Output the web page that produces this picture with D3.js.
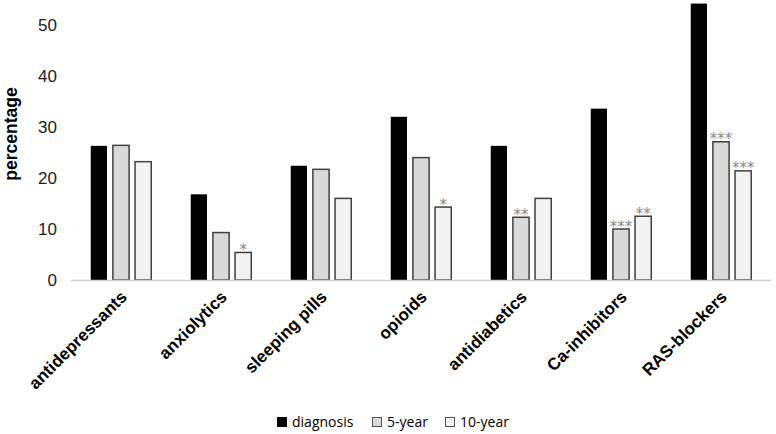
<!DOCTYPE html>
<html><head><meta charset="utf-8">
<script src="https://cdn.jsdelivr.net/npm/d3@7"></script>
<style>body{margin:0;background:#fff}</style>
</head><body><svg id="c" width="776" height="434"></svg>
<script>
const categories = ["antidepressants","anxiolytics","sleeping pills","opioids","antidiabetics","Ca-inhibitors","RAS-blockers"];
const seriesNames = ["diagnosis","5-year","10-year"];
const diagnosis = [26.3, 16.8, 22.4, 32.0, 26.3, 33.6, 54.2];
const year5 = [26.4, 9.3, 21.7, 24.0, 12.3, 10.0, 27.1];
const year10 = [23.2, 5.4, 16.0, 14.3, 16.0, 12.5, 21.4];
const marks5 = ["", "", "", "", "**", "***", "***"];
const marks10 = ["", "*", "", "*", "", "**", "***"];
const yTicks = [0,10,20,30,40,50];

const colors = ["#000000","#d9d9d9","#f2f2f2"];
const strokes = ["#000000","#404040","#404040"];
const svg = d3.select("#c");
const x0 = d3.scaleBand().domain(categories).range([71,771]).paddingInner(0.38).paddingOuter(0.19);
const x1 = d3.scaleBand().domain(seriesNames).range([0,x0.bandwidth()]).paddingInner(0.2);
const y = d3.scaleLinear().domain([0,50]).range([280,25]);

// y tick labels
const ya = svg.append("g").attr("transform","translate(57,0)")
  .call(d3.axisLeft(y).tickValues(yTicks).tickSize(0).tickPadding(0));
ya.select(".domain").remove();
ya.selectAll("text").attr("font-family","Liberation Sans, Arial, sans-serif").attr("font-size",17).attr("fill","#222");

svg.append("text").attr("transform","translate(17,134) rotate(-90)").attr("text-anchor","middle")
  .attr("font-family","Liberation Sans, Arial, sans-serif").attr("font-weight","bold").attr("font-size",17.5).attr("fill","#000").text("percentage");

const series = [diagnosis, year5, year10];
const marks = [null, marks5, marks10];
const g = svg.append("g");
series.forEach((vals, si) => {
  g.selectAll(".b"+si).data(categories).enter().append("rect")
    .attr("x", c => x0(c) + x1(seriesNames[si]) + 0.75)
    .attr("y", (c,i) => y(vals[i]))
    .attr("width", x1.bandwidth() - 1.5)
    .attr("height", (c,i) => y(0) - y(vals[i]))
    .attr("fill", colors[si]).attr("stroke", strokes[si]).attr("stroke-width", si===0?0:1.5);
  if (marks[si]) {
    g.selectAll(".m"+si).data(categories).enter().append("text")
      .attr("x", c => x0(c) + x1(seriesNames[si]) + x1.bandwidth()/2)
      .attr("y", (c,i) => y(vals[i]) + 2.5)
      .attr("text-anchor","middle")
      .attr("font-family","DejaVu Sans, sans-serif").attr("font-size",15)
      .attr("fill","#8a8a8a").text((c,i) => marks[si][i]);
  }
});

// baseline
svg.append("line").attr("x1",71).attr("x2",771).attr("y1",y(0)+0.5).attr("y2",y(0)+0.5).attr("stroke","#d0d0d0").attr("stroke-width",1.5);

// x labels
const xa = svg.append("g").attr("transform","translate(0,"+(y(0))+")")
  .call(d3.axisBottom(x0).tickSize(0).tickPadding(0));
xa.select(".domain").remove();
xa.selectAll("text").attr("text-anchor","end").attr("dy",null).attr("y",0)
  .attr("transform","translate(7,18) rotate(-45)")
  .attr("font-family","Liberation Sans, Arial, sans-serif").attr("font-weight","bold").attr("font-size",17).attr("fill","#000");

// legend
const legX = [277, 372, 445];
const lg = svg.append("g");
seriesNames.forEach((n,i) => {
  lg.append("rect").attr("x",legX[i]+0.5).attr("y",417.5).attr("width",9).attr("height",9)
    .attr("fill",colors[i]).attr("stroke",i===0?"#000":"#555").attr("stroke-width",1);
  lg.append("text").attr("x",legX[i]+15).attr("y",427).attr("font-family","Open Sans, sans-serif").attr("font-size",14).attr("fill","#000").text(n);
});
</script></body></html>
